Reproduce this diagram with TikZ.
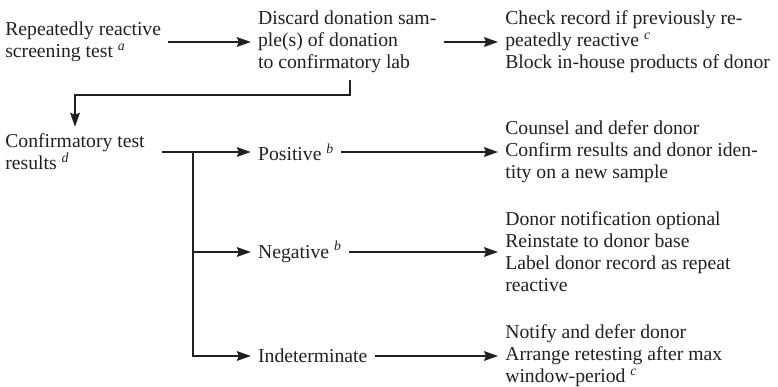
\documentclass[tikz,border=0pt]{standalone}
\usepackage{fontspec}
\setmainfont{Liberation Serif}
\usetikzlibrary{arrows.meta}
\definecolor{ink}{HTML}{231F20}
\tikzset{
  txt/.style={anchor=west, align=left, inner sep=5pt, text=ink,
    font=\fontsize{14}{15.6}\selectfont},
  arr/.style={draw=ink, line width=0.75pt, -{Stealth[length=10pt,width=7pt,inset=1.5pt]}}
}
\newcommand{\note}[1]{\textsuperscript{\itshape #1}}
\begin{document}
\begin{tikzpicture}
      \useasboundingbox (0,0) rectangle (19.45,-9.675);
      % screening
      \node[txt] (rep) at (-0.05,-1.05) {Repeatedly reactive\\screening test \note{a}};
      \node[txt] (dis) at (6.27,-1.05) {Discard donation sam-\\ple(s) of donation\\to confirmatory lab};
      \node[txt] (chk) at (12.45,-1.05) {Check record if previously re-\\peatedly reactive \note{c}\\Block in-house products of donor};
      % confirmatory results
      \node[txt] (conf) at (-0.05,-3.8) {Confirmatory test\\results \note{d}};
      \node[txt] (pos) at (6.27,-3.8) {Positive \note{b}};
      \node[txt] (neg) at (6.27,-6.3) {Negative \note{b}};
      \node[txt] (ind) at (6.27,-8.9) {Indeterminate};
      \node[txt] (cns) at (12.45,-3.8) {Counsel and defer donor\\Confirm results and donor iden-\\tity on a new sample};
      \node[txt] (rein) at (12.45,-6.3) {Donor notification optional\\Reinstate to donor base\\Label donor record as repeat\\reactive};
      \node[txt] (rtst) at (12.45,-8.9) {Notify and defer donor\\Arrange retesting after max\\window-period \note{c}};
      \coordinate (turn) at (8.75,-2.375);
      \coordinate (split) at (4.825,-3.8);
      \draw[arr] (rep) -- (dis);
      \draw[arr] (dis) -- (chk);
      \draw[arr] (turn |- dis.south) -- (turn) -| (conf.north);
      \draw[arr, shorten <=0.25cm] (conf) -- (pos);
      \draw[arr] (split) |- (neg.west);
      \draw[arr] (split) |- (ind.west);
      \draw[arr] (pos) -- (cns);
      \draw[arr] (neg) -- (rein);
      \draw[arr] (ind) -- (rtst);
\end{tikzpicture}
\end{document}
